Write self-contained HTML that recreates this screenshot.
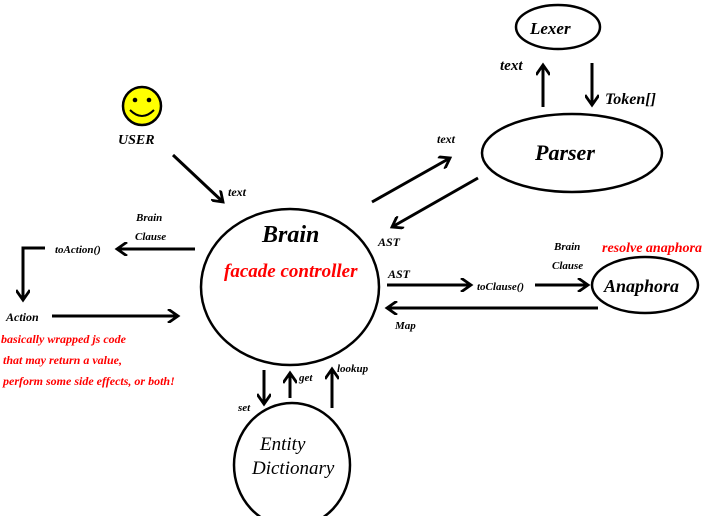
<!DOCTYPE html>
<html><head><meta charset="utf-8"><style>
html,body{margin:0;padding:0;background:#fff;}
svg{display:block;}
text{font-family:"Liberation Serif",serif;font-style:italic;font-weight:bold;fill:#000;}
.r{fill:#f00;}
</style></head><body>
<svg width="709" height="516" viewBox="0 0 709 516" xmlns="http://www.w3.org/2000/svg">
<defs>
<marker id="a" markerWidth="14" markerHeight="14" refX="11" refY="7" orient="auto" markerUnits="userSpaceOnUse">
<path d="M1,0 L11,7 L1,14" fill="none" stroke="#000" stroke-width="2.8"/>
</marker>
</defs>
<g fill="none" stroke="#000" stroke-width="2.5">
<ellipse cx="290" cy="287" rx="89" ry="78"/>
<ellipse cx="292" cy="465" rx="58" ry="62"/>
<ellipse cx="558" cy="27" rx="42" ry="22"/>
<ellipse cx="572" cy="153" rx="90" ry="39"/>
<ellipse cx="645" cy="285" rx="53" ry="28"/>
</g>
<g stroke="#000" stroke-width="3" fill="none" marker-end="url(#a)">
<line x1="173" y1="155" x2="223" y2="202"/>
<line x1="372" y1="202" x2="450" y2="158"/>
<line x1="478" y1="178" x2="392" y2="227"/>
<line x1="543" y1="107" x2="543" y2="65"/>
<line x1="592" y1="63" x2="592" y2="105"/>
<line x1="387" y1="285" x2="471" y2="285"/>
<line x1="535" y1="285" x2="588" y2="285"/>
<line x1="598" y1="308" x2="387" y2="308"/>
<line x1="195" y1="249" x2="117" y2="249"/>
<polyline points="45,248 23,248 23,300"/>
<line x1="52" y1="316" x2="178" y2="316"/>
<line x1="264" y1="370" x2="264" y2="404"/>
<line x1="290" y1="398" x2="290" y2="373"/>
<line x1="332" y1="408" x2="332" y2="369"/>
</g>
<circle cx="142" cy="106" r="19" fill="#ff0" stroke="#000" stroke-width="2.5"/>
<circle cx="135" cy="100" r="2.3"/><circle cx="149" cy="100" r="2.3"/>
<path d="M130,110 Q142,122 154,110" fill="none" stroke="#000" stroke-width="2"/>
<text x="118" y="144" font-size="14">USER</text>
<text x="228" y="196" font-size="12">text</text>
<text x="262" y="242" font-size="24">Brain</text>
<text x="224" y="277" font-size="19" class="r">facade controller</text>
<text x="530" y="34" font-size="17">Lexer</text>
<text x="500" y="70" font-size="15">text</text>
<text x="605" y="104" font-size="16">Token[]</text>
<text x="535" y="160" font-size="22">Parser</text>
<text x="437" y="143" font-size="12">text</text>
<text x="378" y="246" font-size="12">AST</text>
<text x="388" y="278" font-size="12">AST</text>
<text x="477" y="290" font-size="11">toClause()</text>
<text x="554" y="250" font-size="11">Brain</text>
<text x="552" y="269" font-size="11">Clause</text>
<text x="602" y="252" font-size="14" class="r">resolve anaphora</text>
<text x="604" y="292" font-size="18">Anaphora</text>
<text x="395" y="329" font-size="11">Map</text>
<text x="136" y="221" font-size="11">Brain</text>
<text x="135" y="240" font-size="11">Clause</text>
<text x="55" y="253" font-size="11">toAction()</text>
<text x="6" y="321" font-size="12">Action</text>
<text x="1" y="343" font-size="12" class="r">basically wrapped js code</text>
<text x="3" y="364" font-size="12" class="r">that may return a value,</text>
<text x="3" y="385" font-size="12" class="r">perform some side effects, or both!</text>
<text x="238" y="411" font-size="11">set</text>
<text x="299" y="381" font-size="11">get</text>
<text x="337" y="372" font-size="11">lookup</text>
<text x="260" y="450" font-size="19" style="font-weight:normal">Entity</text>
<text x="252" y="474" font-size="19" style="font-weight:normal">Dictionary</text>
</svg>
</body></html>
